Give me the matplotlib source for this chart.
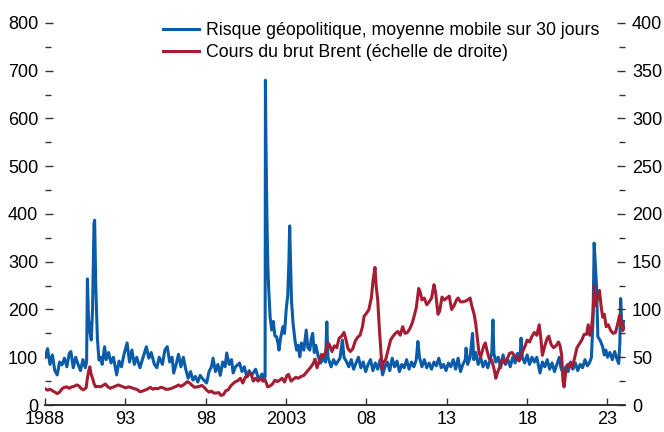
import matplotlib.pyplot as plt
from matplotlib.ticker import MultipleLocator

plt.rcParams['font.family'] = ['Liberation Sans', 'DejaVu Sans']

# geopolitical risk, 30-day moving average (left axis)
gpr_years = [1988.0, 1988.15, 1988.3, 1988.45, 1988.6, 1988.75, 1988.9, 1989.05, 1989.2, 1989.35,
             1989.5, 1989.6, 1989.75, 1989.9, 1990.05, 1990.2, 1990.35, 1990.5, 1990.58, 1990.63,
             1990.7, 1990.8, 1990.87, 1990.95, 1991.04, 1991.08, 1991.15, 1991.25, 1991.35, 1991.45,
             1991.55, 1991.7, 1991.8, 1991.95, 1992.1, 1992.25, 1992.45, 1992.6, 1992.75, 1992.9,
             1993.1, 1993.25, 1993.4, 1993.55, 1993.7, 1993.9, 1994.05, 1994.3, 1994.45, 1994.6,
             1994.8, 1994.95, 1995.1, 1995.3, 1995.45, 1995.6, 1995.75, 1995.9, 1996.0, 1996.15,
             1996.3, 1996.45, 1996.6, 1996.75, 1996.9, 1997.05, 1997.2, 1997.35, 1997.5, 1997.65,
             1997.8, 1998.05, 1998.2, 1998.35, 1998.45, 1998.6, 1998.75, 1998.9, 1999.05, 1999.2,
             1999.3, 1999.45, 1999.6, 1999.7, 1999.85, 2000.1, 2000.25, 2000.4, 2000.55, 2000.7,
             2000.85, 2000.95, 2001.1, 2001.25, 2001.35, 2001.5, 2001.62, 2001.69, 2001.71, 2001.74,
             2001.8, 2001.86, 2001.92, 2002.0, 2002.1, 2002.2, 2002.3, 2002.4, 2002.5, 2002.55,
             2002.65, 2002.8, 2002.9, 2003.0, 2003.1, 2003.17, 2003.22, 2003.27, 2003.33, 2003.43,
             2003.55, 2003.65, 2003.75, 2003.85, 2003.95, 2004.1, 2004.25, 2004.35, 2004.47, 2004.57,
             2004.65, 2004.75, 2004.85, 2005.0, 2005.15, 2005.3, 2005.45, 2005.53, 2005.6, 2005.8,
             2005.95, 2006.1, 2006.35, 2006.5, 2006.6, 2006.75, 2006.9, 2007.05, 2007.2, 2007.35,
             2007.5, 2007.65, 2007.8, 2007.95, 2008.1, 2008.25, 2008.4, 2008.55, 2008.7, 2008.85,
             2009.0, 2009.15, 2009.3, 2009.45, 2009.6, 2009.75, 2009.9, 2010.05, 2010.2, 2010.35,
             2010.5, 2010.65, 2010.8, 2010.95, 2011.1, 2011.2, 2011.3, 2011.45, 2011.6, 2011.75,
             2011.9, 2012.05, 2012.2, 2012.35, 2012.5, 2012.65, 2012.8, 2012.95, 2013.1, 2013.25,
             2013.4, 2013.55, 2013.7, 2013.85, 2014.0, 2014.15, 2014.2, 2014.3, 2014.45, 2014.6,
             2014.68, 2014.8, 2014.95, 2015.1, 2015.25, 2015.4, 2015.55, 2015.7, 2015.8, 2015.87,
             2015.93, 2016.05, 2016.2, 2016.35, 2016.5, 2016.65, 2016.8, 2016.95, 2017.1, 2017.25,
             2017.4, 2017.55, 2017.62, 2017.7, 2017.85, 2018.0, 2018.15, 2018.3, 2018.45, 2018.6,
             2018.8, 2018.95, 2019.1, 2019.25, 2019.4, 2019.55, 2019.7, 2019.85, 2020.0, 2020.1,
             2020.25, 2020.4, 2020.55, 2020.7, 2020.85, 2021.0, 2021.15, 2021.3, 2021.45, 2021.6,
             2021.75, 2021.9, 2022.0, 2022.1, 2022.17, 2022.25, 2022.32, 2022.4, 2022.55, 2022.7,
             2022.8, 2022.9, 2023.0, 2023.15, 2023.3, 2023.45, 2023.6, 2023.7, 2023.77, 2023.82,
             2023.88, 2023.93, 2024.0]
gpr_values = [100, 118, 85, 105, 72, 63, 90, 84, 98, 80,
              108, 112, 78, 100, 85, 72, 95, 78, 90, 264,
              180, 150, 136, 200, 380, 387, 250, 140, 94, 100,
              85, 122, 95, 110, 88, 100, 63, 92, 80, 105,
              130, 90, 115, 85, 100, 78, 95, 122, 98, 110,
              85, 78, 100, 85, 115, 122, 90, 100, 67, 85,
              106, 80, 100, 75, 56, 70, 52, 60, 48, 62,
              55, 46, 70, 80, 98, 70, 85, 62, 90, 80,
              109, 85, 95, 67, 80, 88, 70, 80, 59, 72,
              62, 67, 75, 58, 56, 65, 52, 60, 680, 560,
              400, 290, 240, 185, 157, 175, 145, 143, 128, 115,
              140, 164, 150, 199, 230, 300, 375, 300, 220, 171,
              135, 115, 125, 101, 130, 115, 157, 120, 115, 140,
              150, 110, 125, 101, 88, 98, 90, 174, 100, 80,
              95, 85, 98, 136, 100, 91, 80, 95, 75, 88,
              100, 78, 90, 70, 85, 95, 72, 88, 75, 95,
              63, 80, 90, 72, 98, 80, 92, 70, 85, 78,
              95, 75, 90, 80, 95, 133, 100, 80, 95, 78,
              88, 75, 90, 82, 98, 78, 85, 72, 88, 80,
              95, 75, 98, 70, 85, 95, 119, 85, 100, 150,
              95, 110, 85, 100, 80, 92, 78, 95, 110, 178,
              108, 90, 100, 78, 105, 85, 95, 80, 100, 88,
              108, 95, 140, 100, 88, 105, 85, 100, 90, 100,
              67, 90, 80, 95, 75, 88, 70, 85, 100, 78,
              65, 80, 70, 90, 75, 88, 72, 85, 78, 95,
              82, 90, 100, 178, 339, 290, 248, 143, 135, 122,
              105, 115, 100, 110, 95, 112, 95, 87, 130, 223,
              171, 159, 175]

# Brent crude price, USD (right axis)
brent_years = [1988.0, 1988.15, 1988.3, 1988.45, 1988.6, 1988.75, 1988.9, 1989.05, 1989.2, 1989.35,
               1989.5, 1989.65, 1989.8, 1989.95, 1990.1, 1990.25, 1990.4, 1990.55, 1990.62, 1990.7,
               1990.78, 1990.85, 1990.95, 1991.05, 1991.15, 1991.3, 1991.45, 1991.6, 1991.75, 1991.9,
               1992.05, 1992.2, 1992.4, 1992.55, 1992.7, 1992.85, 1993.0, 1993.2, 1993.4, 1993.55,
               1993.7, 1993.9, 1994.05, 1994.2, 1994.4, 1994.55, 1994.7, 1994.85, 1995.0, 1995.2,
               1995.35, 1995.5, 1995.65, 1995.8, 1996.0, 1996.15, 1996.3, 1996.45, 1996.6, 1996.75,
               1996.85, 1997.0, 1997.15, 1997.3, 1997.45, 1997.6, 1997.75, 1997.9, 1998.05, 1998.2,
               1998.35, 1998.5, 1998.65, 1998.8, 1998.95, 1999.1, 1999.25, 1999.4, 1999.55, 1999.7,
               1999.85, 2000.0, 2000.15, 2000.3, 2000.45, 2000.6, 2000.72, 2000.85, 2000.95, 2001.1,
               2001.25, 2001.4, 2001.55, 2001.7, 2001.85, 2002.0, 2002.15, 2002.3, 2002.45, 2002.6,
               2002.75, 2002.9, 2003.05, 2003.15, 2003.3, 2003.45, 2003.6, 2003.75, 2003.95, 2004.1,
               2004.25, 2004.4, 2004.55, 2004.7, 2004.8, 2004.92, 2005.05, 2005.2, 2005.35, 2005.5,
               2005.6, 2005.7, 2005.85, 2006.0, 2006.15, 2006.3, 2006.45, 2006.6, 2006.7, 2006.85,
               2007.0, 2007.15, 2007.3, 2007.45, 2007.6, 2007.75, 2007.85, 2008.0, 2008.15, 2008.3,
               2008.42, 2008.53, 2008.6, 2008.7, 2008.8, 2008.9, 2008.97, 2009.05, 2009.2, 2009.35,
               2009.5, 2009.65, 2009.8, 2009.95, 2010.1, 2010.25, 2010.4, 2010.55, 2010.7, 2010.85,
               2010.95, 2011.1, 2011.25, 2011.35, 2011.45, 2011.6, 2011.75, 2011.9, 2012.05, 2012.2,
               2012.3, 2012.45, 2012.55, 2012.7, 2012.85, 2013.0, 2013.15, 2013.3, 2013.45, 2013.6,
               2013.7, 2013.85, 2014.0, 2014.2, 2014.45, 2014.55, 2014.7, 2014.8, 2014.9, 2015.0,
               2015.1, 2015.3, 2015.4, 2015.5, 2015.65, 2015.8, 2015.95, 2016.05, 2016.15, 2016.3,
               2016.45, 2016.6, 2016.75, 2016.9, 2017.05, 2017.2, 2017.4, 2017.5, 2017.6, 2017.75,
               2017.9, 2018.0, 2018.15, 2018.3, 2018.45, 2018.6, 2018.75, 2018.85, 2018.95, 2019.1,
               2019.25, 2019.35, 2019.5, 2019.65, 2019.8, 2019.95, 2020.05, 2020.15, 2020.23, 2020.3,
               2020.4, 2020.5, 2020.65, 2020.8, 2020.95, 2021.1, 2021.25, 2021.4, 2021.55, 2021.7,
               2021.8, 2021.9, 2022.0, 2022.1, 2022.18, 2022.25, 2022.4, 2022.5, 2022.6, 2022.7,
               2022.8, 2022.92, 2023.05, 2023.2, 2023.35, 2023.5, 2023.65, 2023.75, 2023.85, 2023.95,
               2024.05]
brent_values = [17, 15.5, 16.5, 15, 13.5, 12, 13.5, 17, 18.5, 19,
                17.5, 19, 19.5, 21, 20, 17, 16, 18, 27, 35,
                40, 33, 28, 22, 19, 19.5, 19, 20.5, 22, 19,
                17.5, 18.5, 20, 21, 20, 19, 18, 19, 18, 17,
                16.5, 14, 14.5, 15.5, 17, 18.5, 16.5, 17.5, 17, 18.5,
                18, 16.5, 16.5, 17, 18.5, 19.5, 21, 19.5, 21, 23,
                24.5, 23, 20.5, 18.5, 19, 19.5, 20.5, 18.5, 15.5, 13.5,
                14.5, 12.5, 12.5, 13, 10, 11, 15, 16, 20, 22.5,
                24.5, 25.5, 28, 23, 29, 30, 34, 31, 25, 28,
                25, 28, 25, 26, 19, 20, 22, 26, 24.5, 26,
                28, 24, 31, 32, 25, 27, 29, 28, 30, 31,
                34, 37, 40, 44, 48, 39, 45, 53, 51, 58,
                65, 63, 56, 62, 60, 70, 72, 76, 70, 59,
                56, 59, 67, 71, 73, 82, 93, 96, 100, 112,
                132, 144, 125, 110, 80, 55, 38, 44, 48, 58,
                68, 72, 75, 77, 73, 82, 75, 76, 80, 86,
                92, 102, 122, 118, 110, 112, 105, 108, 112, 126,
                118, 95, 98, 113, 110, 112, 114, 100, 104, 110,
                112, 108, 108, 109, 112, 104, 95, 85, 70, 55,
                50, 62, 65, 57, 48, 47, 37, 28, 34, 40,
                48, 44, 48, 54, 55, 52, 48, 46, 51, 57,
                63, 68, 66, 72, 76, 73, 84, 70, 52, 62,
                70, 72, 63, 60, 62, 66, 62, 52, 25, 19,
                35, 42, 43, 39, 49, 60, 64, 68, 74, 74,
                84, 73, 80, 97, 125, 104, 112, 120, 104, 92,
                95, 82, 84, 78, 75, 76, 86, 94, 88, 78,
                82]

x_ticks = [1988, 1993, 1998, 2003, 2008, 2013, 2018, 2023]
x_labels = ['1988', '93', '98', '2003', '08', '13', '18', '23']

blue = '#0b5ca8'
red = '#a51d32'
fs = 13

fig = plt.figure(figsize=(6.64, 4.32), dpi=100)
ax = fig.add_axes([0.068, 0.0625, 0.8735, 0.8843])
ax2 = ax.twinx()

l1, = ax.plot(gpr_years, gpr_values, color=blue, lw=2.2)
l2, = ax2.plot(brent_years, brent_values, color=red, lw=2.2)

ax.set_xlim(1988, 2024.1)
ax.set_ylim(0, 800)
ax2.set_ylim(0, 400)

ax.set_xticks(x_ticks)
ax.set_xticklabels(x_labels)
ax.yaxis.set_major_locator(MultipleLocator(100))
ax.yaxis.set_minor_locator(MultipleLocator(50))
ax2.yaxis.set_major_locator(MultipleLocator(50))
ax2.yaxis.set_minor_locator(MultipleLocator(25))

for a in (ax, ax2):
    for s in ('top', 'left', 'right'):
        a.spines[s].set_visible(False)
    a.spines['bottom'].set_color('#333333')
    a.spines['bottom'].set_linewidth(1.2)
    a.tick_params(axis='y', which='major', direction='in', length=6, width=1.0,
                  color='#333333', labelsize=fs, pad=5)
    a.tick_params(axis='y', which='minor', direction='in', length=4, width=1.0,
                  color='#333333')
ax.tick_params(axis='x', direction='in', length=5, width=1.0, color='#333333',
               labelsize=fs, pad=4)

leg = fig.legend([l1, l2],
                 ['Risque géopolitique, moyenne mobile sur 30 jours',
                  'Cours du brut Brent (échelle de droite)'],
                 loc='upper left', bbox_to_anchor=(163 / 664, 1 - 22 / 432),
                 frameon=False, fontsize=12.8, handlelength=2.0, handletextpad=0.4,
                 borderpad=0, borderaxespad=0, labelspacing=0.3)

fig.savefig('out.png', dpi=100)
